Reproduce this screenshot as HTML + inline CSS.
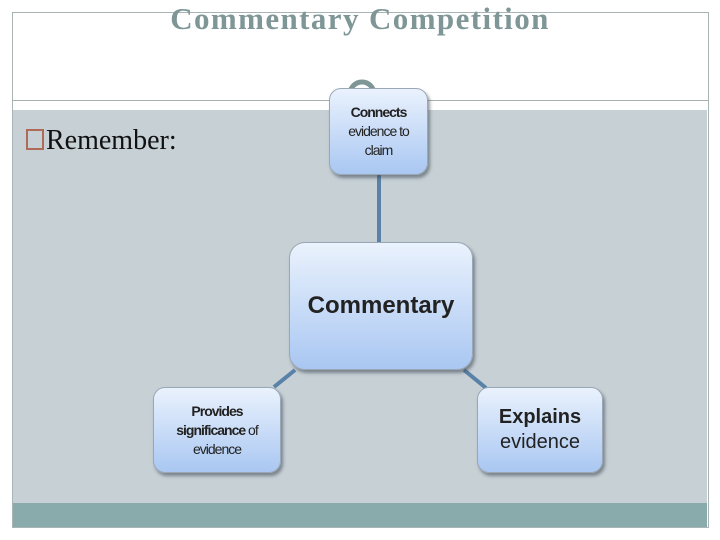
<!DOCTYPE html>
<html><head><style>
body{margin:0;width:720px;height:540px;position:relative;background:#fff;overflow:hidden;font-family:"Liberation Sans",sans-serif}
.a{position:absolute}
.box{position:absolute;border:1px solid #9aa7b4;border-radius:12px;background:linear-gradient(#eaf2fd,#a9c7f2);box-shadow:2px 3px 3px rgba(60,70,80,.55);display:flex;flex-direction:column;align-items:center;justify-content:center;text-align:center;color:#222;box-sizing:border-box}
</style></head><body>
<div class="a" style="left:12px;top:12px;width:695px;height:514px;border:1px solid #a9b4b4"></div>
<div class="a" style="left:0;top:1px;width:720px;text-align:center;font:bold 31px 'Liberation Serif',serif;letter-spacing:1.4px;color:#7f9696">Commentary Competition</div>
<div class="a" style="left:12px;top:100px;width:696px;height:1px;background:#a9b0b0"></div>
<div class="a" style="left:13px;top:110px;width:694px;height:393px;background:#c6d0d5"></div>
<div class="a" style="left:13px;top:503px;width:694px;height:24px;background:#89abab"></div>
<div class="a" style="left:26px;top:125px;font:28px 'Liberation Serif',serif;color:#111"><span style="display:inline-block;width:14px;height:17px;border:2px solid #b06a5a;vertical-align:-1px;margin-right:2px"></span>Remember:</div>
<svg class="a" style="left:0;top:0" width="720" height="540">
<path d="M350 94 A12 12 0 0 1 374 94" fill="none" stroke="#7f9696" stroke-width="5"/>
<line x1="379" y1="175" x2="379" y2="243" stroke="#5a82a8" stroke-width="4"/>
<line x1="295" y1="370" x2="274" y2="387" stroke="#5a82a8" stroke-width="4"/>
<line x1="464" y1="370" x2="486" y2="388" stroke="#5a82a8" stroke-width="4"/>
</svg>
<div class="box" style="left:329px;top:88px;width:99px;height:87px;font-size:14px;line-height:19px;letter-spacing:-1px"><b>Connects</b>evidence to<br>claim</div>
<div class="box" style="left:289px;top:242px;width:184px;height:128px;font-size:24px;font-weight:bold;border-radius:16px">Commentary</div>
<div class="box" style="left:153px;top:387px;width:128px;height:86px;font-size:14px;line-height:19px;letter-spacing:-1px"><b>Provides</b><span><b>significance</b> of</span>evidence</div>
<div class="box" style="left:477px;top:387px;width:126px;height:86px;font-size:20px;line-height:25px"><b>Explains</b>evidence</div>
</body></html>
